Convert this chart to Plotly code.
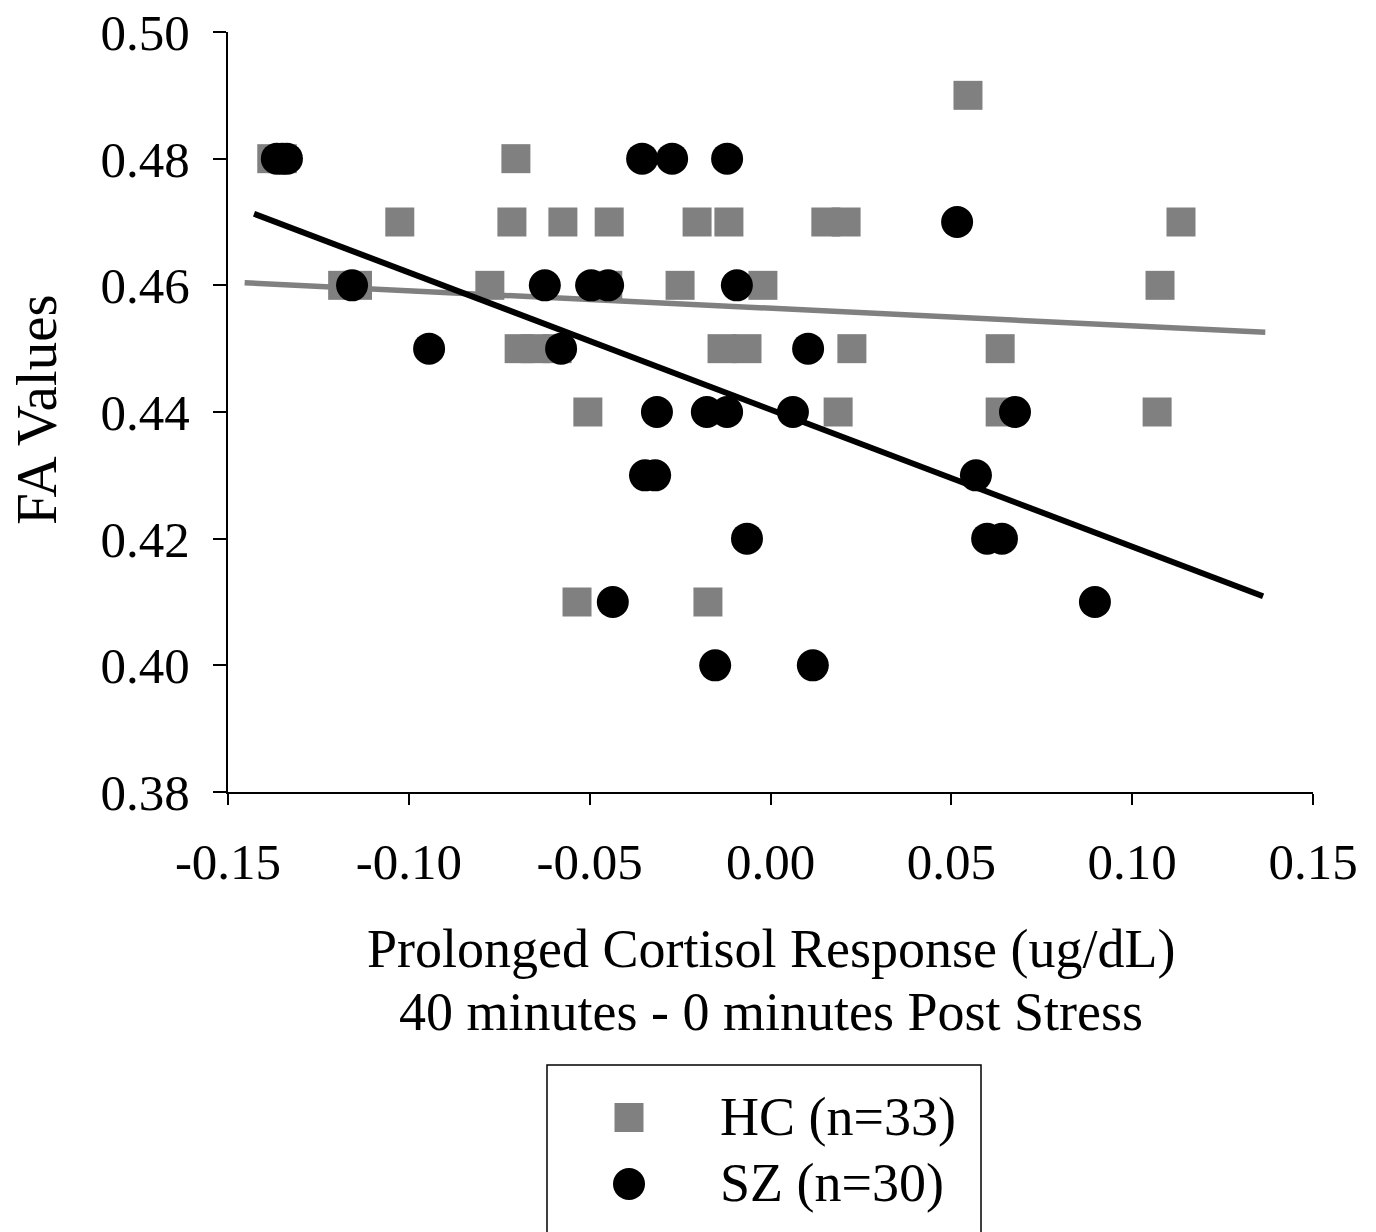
import plotly.graph_objects as go

# ---------------- data ----------------
hc_x = [-0.1379, -0.1350, -0.0704, 0.0546,
        -0.1025, -0.0715, -0.0574, -0.0446, -0.0203, -0.0115, 0.0153, 0.0209, 0.1135,
        -0.1183, -0.1142, -0.0776, -0.0450, -0.0250, -0.0021, 0.1077,
        -0.0695, -0.0651, -0.0590, -0.0134, -0.0065, 0.0225, 0.0635,
        -0.0505, 0.0187, 0.0635, 0.1069,
        -0.0535, -0.0173]
hc_y = [0.48, 0.48, 0.48, 0.49,
        0.47, 0.47, 0.47, 0.47, 0.47, 0.47, 0.47, 0.47, 0.47,
        0.46, 0.46, 0.46, 0.46, 0.46, 0.46, 0.46,
        0.45, 0.45, 0.45, 0.45, 0.45, 0.45, 0.45,
        0.44, 0.44, 0.44, 0.44,
        0.41, 0.41]

sz_x = [-0.1365, -0.1350, -0.1337, -0.0355, -0.0272, -0.0120,
        0.0516,
        -0.1157, -0.0624, -0.0496, -0.0449, -0.0093,
        -0.0944, -0.0579, 0.0104,
        -0.0314, -0.0176, -0.0120, 0.0062, 0.0676,
        -0.0347, -0.0319, 0.0568,
        -0.0065, 0.0599, 0.0640,
        -0.0436, 0.0897,
        -0.0153, 0.0117]
sz_y = [0.48, 0.48, 0.48, 0.48, 0.48, 0.48,
        0.47,
        0.46, 0.46, 0.46, 0.46, 0.46,
        0.45, 0.45, 0.45,
        0.44, 0.44, 0.44, 0.44, 0.44,
        0.43, 0.43, 0.43,
        0.42, 0.42, 0.42,
        0.41, 0.41,
        0.40, 0.40]

# trend lines (end points)
hc_fit_x = [-0.1454, 0.1368]
hc_fit_y = [0.4604, 0.4526]
sz_fit_x = [-0.1428, 0.1362]
sz_fit_y = [0.4713, 0.4109]

x_ticks = [-0.15, -0.10, -0.05, 0.00, 0.05, 0.10, 0.15]
x_tick_labels = ["-0.15", "-0.10", "-0.05", "0.00", "0.05", "0.10", "0.15"]
y_ticks = [0.38, 0.40, 0.42, 0.44, 0.46, 0.48, 0.50]
y_tick_labels = ["0.38", "0.40", "0.42", "0.44", "0.46", "0.48", "0.50"]

legend_names = ["HC (n=33)", "SZ (n=30)"]
x_title = ["Prolonged Cortisol Response (ug/dL)", "40 minutes - 0 minutes Post Stress"]
y_title = "FA Values"

# ---------------- styling ----------------
FONT = "Liberation Serif, Times New Roman, serif"
GRAY = "#808080"
W, H = 1376, 1232
L, R, T, B = 228, 63, 32, 440
PW, PH = W - L - R, H - T - B


def px2paper_x(px):
    return (px - L) / PW


def px2paper_y(py):
    return (H - B - py) / PH


fig = go.Figure()
fig.add_trace(go.Scatter(x=hc_x, y=hc_y, mode="markers", name=legend_names[0],
                         marker=dict(symbol="square", size=29, color=GRAY, line=dict(width=0)),
                         showlegend=False))
fig.add_trace(go.Scatter(x=hc_fit_x, y=hc_fit_y, mode="lines", line=dict(color=GRAY, width=5.5),
                         showlegend=False, hoverinfo="skip"))
fig.add_trace(go.Scatter(x=sz_x, y=sz_y, mode="markers", name=legend_names[1],
                         marker=dict(symbol="circle", size=32, color="black", line=dict(width=0)),
                         showlegend=False))
fig.add_trace(go.Scatter(x=sz_fit_x, y=sz_fit_y, mode="lines", line=dict(color="black", width=6),
                         showlegend=False, hoverinfo="skip"))

axis_common = dict(showgrid=False, zeroline=False, showline=True, linecolor="black", linewidth=2,
                   ticks="outside", tickcolor="black", tickwidth=2,
                   tickfont=dict(family=FONT, size=51, color="black"))

fig.update_xaxes(range=[-0.15, 0.15], tickvals=x_ticks, ticktext=x_tick_labels, ticklen=11,
                 ticklabelstandoff=13, **axis_common)
fig.update_yaxes(range=[0.38, 0.50], tickvals=y_ticks, ticktext=y_tick_labels, ticklen=13,
                 ticklabelstandoff=13, **axis_common)

annotations = [
    dict(text=x_title[0], x=px2paper_x(771), y=px2paper_y(949), xref="paper", yref="paper",
         showarrow=False, xanchor="center", yanchor="middle", font=dict(family=FONT, size=54, color="black")),
    dict(text=x_title[1], x=px2paper_x(771), y=px2paper_y(1012), xref="paper", yref="paper",
         showarrow=False, xanchor="center", yanchor="middle", font=dict(family=FONT, size=54, color="black")),
    dict(text=y_title, x=px2paper_x(36), y=px2paper_y(410), xref="paper", yref="paper", textangle=-90,
         showarrow=False, xanchor="center", yanchor="middle", font=dict(family=FONT, size=57, color="black")),
    dict(text=legend_names[0], x=px2paper_x(718), y=px2paper_y(1117), xref="paper", yref="paper",
         showarrow=False, xanchor="left", yanchor="middle", font=dict(family=FONT, size=54, color="black")),
    dict(text=legend_names[1], x=px2paper_x(718), y=px2paper_y(1183), xref="paper", yref="paper",
         showarrow=False, xanchor="left", yanchor="middle", font=dict(family=FONT, size=54, color="black")),
]

shapes = [
    # legend box
    dict(type="rect", xref="paper", yref="paper", x0=px2paper_x(547), x1=px2paper_x(981),
         y0=px2paper_y(1065), y1=px2paper_y(1245), line=dict(color="black", width=1.5), fillcolor="white"),
    # legend symbols
    dict(type="rect", xref="paper", yref="paper", x0=px2paper_x(614.5), x1=px2paper_x(643.5),
         y0=px2paper_y(1103), y1=px2paper_y(1132), line=dict(width=0), fillcolor=GRAY),
    dict(type="circle", xref="paper", yref="paper", x0=px2paper_x(613), x1=px2paper_x(645),
         y0=px2paper_y(1168), y1=px2paper_y(1200), line=dict(width=0), fillcolor="black"),
]

fig.update_layout(width=W, height=H, margin=dict(l=L, r=R, t=T, b=B, autoexpand=False),
                  plot_bgcolor="white", paper_bgcolor="white", showlegend=False,
                  annotations=annotations, shapes=shapes)

fig.write_html("out.html", config={"displayModeBar": False},
               post_script="document.body.style.margin='0';document.body.style.padding='0';")
